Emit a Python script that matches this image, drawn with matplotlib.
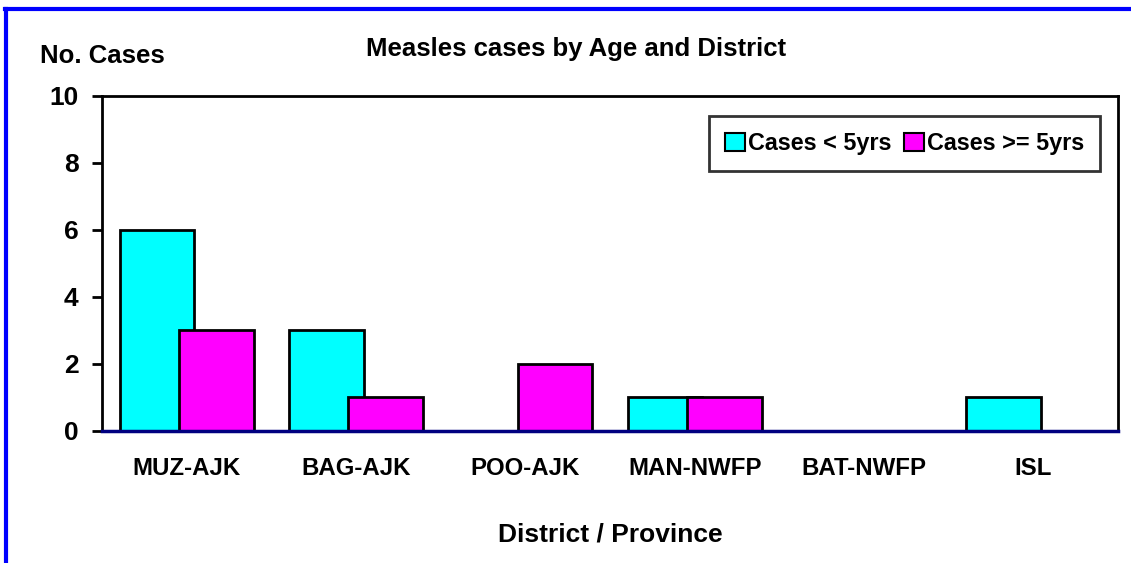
import matplotlib
matplotlib.use("Agg")
import matplotlib.pyplot as plt
import numpy as np
from matplotlib.lines import Line2D
from matplotlib.patches import Patch

plt.rcParams['font.family'] = ['Liberation Sans', 'DejaVu Sans']
plt.rcParams['font.weight'] = 'bold'

categories = ["MUZ-AJK", "BAG-AJK", "POO-AJK", "MAN-NWFP", "BAT-NWFP", "ISL"]
under5 = [6, 3, 0, 1, 0, 1]
over5 = [3, 1, 2, 1, 0, 0]
series_names = ["Cases < 5yrs", "Cases >= 5yrs"]
yticks = [0, 2, 4, 6, 8, 10]

fig = plt.figure(figsize=(11.31, 5.63), dpi=100)
ax = fig.add_axes([0.0902, 0.2345, 0.8983, 0.595])

x = np.arange(len(categories))
w = 0.44
off = 0.175
ax.bar(x - off, under5, w, color='#00FFFF', edgecolor='black', linewidth=2, zorder=2)
ax.bar(x + off, over5, w, color='#FF00FF', edgecolor='black', linewidth=2, zorder=3)

ax.set_xlim(-0.5, len(categories) - 0.5)
ax.set_ylim(0, 10)
ax.set_yticks(yticks)
ax.set_yticklabels([str(t) for t in yticks], fontsize=19, fontweight='bold')
ax.set_xticks(x)
ax.set_xticklabels(categories, fontsize=17.3, fontweight='bold')
ax.tick_params(axis='x', length=0, pad=19)
ax.tick_params(axis='y', length=7, width=2, direction='out', pad=10)
for s in ['left', 'top', 'right']:
    ax.spines[s].set_linewidth(2)
    ax.spines[s].set_color('black')
ax.spines['bottom'].set_linewidth(2.5)
ax.spines['bottom'].set_color('#000080')
ax.spines['bottom'].set_zorder(4)

ax.set_xlabel("District / Province", fontsize=19, fontweight='bold', labelpad=30)

fig.text(0.509, 0.913, "Measles cases by Age and District", fontsize=18.5,
         fontweight='bold', ha='center', va='center')
fig.text(0.035, 0.901, "No. Cases", fontsize=18.5, fontweight='bold', ha='left', va='center')

handles = [Patch(facecolor='#00FFFF', edgecolor='black', linewidth=1.5),
           Patch(facecolor='#FF00FF', edgecolor='black', linewidth=1.5)]
leg = ax.legend(handles, series_names, loc='upper right', bbox_to_anchor=(0.982, 0.94),
                ncol=2, frameon=True, fancybox=False, fontsize=16.8,
                handlelength=0.85, handleheight=0.85, handletextpad=0.12,
                columnspacing=0.55, borderpad=0.68, borderaxespad=0)
leg.get_frame().set_edgecolor('black')
leg.get_frame().set_linewidth(2)
for t in leg.get_texts():
    t.set_fontweight('bold')

# blue page border (top and left)
fig.add_artist(Line2D([0.004, 1.0], [0.984, 0.984], color='#0000FF', linewidth=3,
                      transform=fig.transFigure))
fig.add_artist(Line2D([0.0053, 0.0053], [0.0, 0.984], color='#0000FF', linewidth=3,
                      transform=fig.transFigure))

fig.savefig("out.png", dpi=100)
